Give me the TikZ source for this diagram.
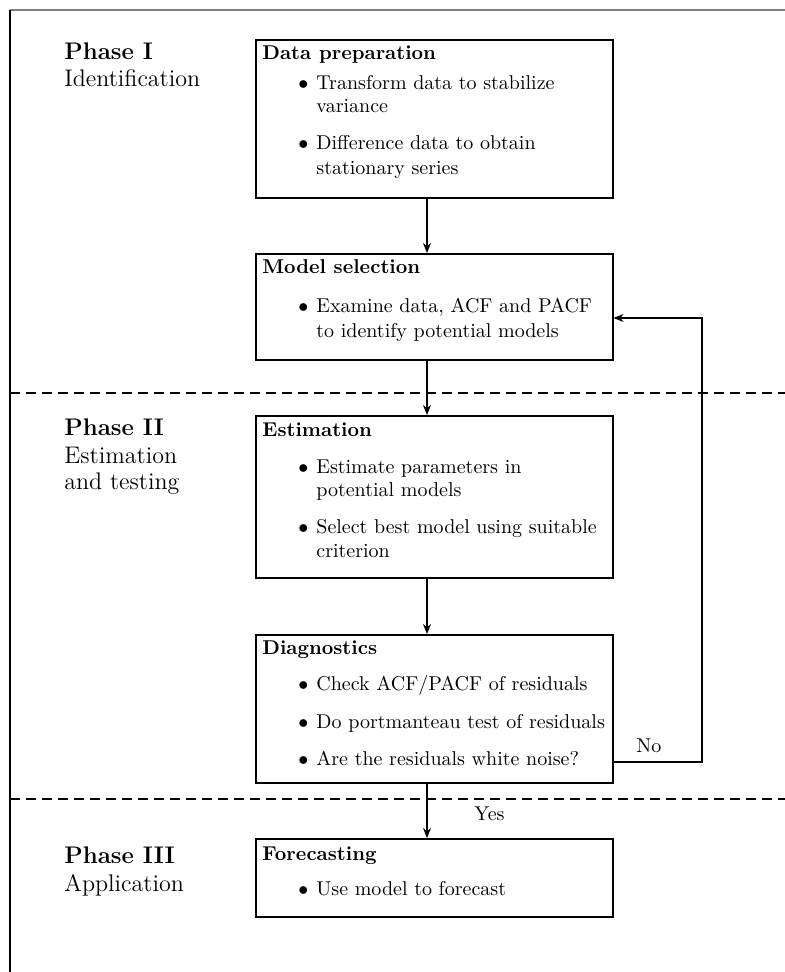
\documentclass[tikz,border=0pt]{standalone}
\usetikzlibrary{arrows.meta}
\begin{document}
\begin{tikzpicture}[x=0.5pt,y=-0.5pt,
  boxnode/.style={draw,line width=0.8pt,anchor=north west,minimum width=357*0.5pt,inner sep=0pt},
  txt/.style={anchor=base west,inner sep=0pt},
  ttl/.style={anchor=base west,inner sep=0pt,font=\bfseries},
  phase/.style={anchor=base west,inner sep=0pt,font=\large\bfseries},
  phasesub/.style={anchor=base west,inner sep=0pt,font=\large},
  conn/.style={line width=0.6pt,-{Stealth[length=5pt,width=4pt]}},
  sep/.style={line width=0.6pt,dash pattern=on 5pt off 3pt}]
\useasboundingbox (0,0) rectangle (785,972);
% frame
\draw[gray,line width=0.7pt] (10,10) -- (785,10);
\draw[line width=0.6pt] (10,10) -- (10,972);
% separators
\draw[sep] (10,393) -- (785,393);
\draw[sep] (10,799) -- (785,799);
% phase labels
\node[phase] (p1) at (64,60) {Phase I};
\node[phasesub] (p1s) at (64,87) {Identification};
\node[phase] (p2) at (64,435) {Phase II};
\node[phasesub] (p2s) at (64,463) {Estimation};
\node[phasesub] (p2t) at (64,489) {and testing};
\node[phase] (p3) at (64,863) {Phase III};
\node[phasesub] (p3s) at (64,891) {Application};
% boxes
\node[boxnode,minimum height=158*0.5pt] (b1) at (255,39) {};
\node[boxnode,minimum height=106*0.5pt] (b2) at (255,253) {};
\node[boxnode,minimum height=162*0.5pt] (b3) at (255,415) {};
\node[boxnode,minimum height=148*0.5pt] (b4) at (255,634) {};
\node[boxnode,minimum height=78*0.5pt] (b5) at (255,838) {};
% box 1
\node[ttl] (t1) at (262,60) {Data preparation};
\node[txt] (d11) at (298,90) {$\bullet$};
\node[txt] (l11) at (316,90) {Transform data to stabilize};
\node[txt] (l12) at (316,113) {variance};
\node[txt] (d12) at (298,150) {$\bullet$};
\node[txt] (l13) at (316,150) {Difference data to obtain};
\node[txt] (l14) at (316,175) {stationary series};
% box 2
\node[ttl] (t2) at (262,274) {Model selection};
\node[txt] (d21) at (298,313) {$\bullet$};
\node[txt] (l21) at (316,313) {Examine data, ACF and PACF};
\node[txt] (l22) at (316,337) {to identify potential models};
% box 3
\node[ttl] (t3) at (262,436) {Estimation};
\node[txt] (d31) at (298,473) {$\bullet$};
\node[txt] (l31) at (316,473) {Estimate parameters in};
\node[txt] (l32) at (316,496) {potential models};
\node[txt] (d32) at (298,533) {$\bullet$};
\node[txt] (l33) at (316,533) {Select best model using suitable};
\node[txt] (l34) at (316,557) {criterion};
% box 4
\node[ttl] (t4) at (262,654) {Diagnostics};
\node[txt] (d41) at (298,690) {$\bullet$};
\node[txt] (l41) at (316,690) {Check ACF/PACF of residuals};
\node[txt] (d42) at (298,728) {$\bullet$};
\node[txt] (l42) at (316,728) {Do portmanteau test of residuals};
\node[txt] (d43) at (298,765) {$\bullet$};
\node[txt] (l43) at (316,765) {Are the residuals white noise?};
% box 5
\node[ttl] (t5) at (262,860) {Forecasting};
\node[txt] (d51) at (298,895) {$\bullet$};
\node[txt] (l51) at (316,895) {Use model to forecast};
% connectors
\coordinate (ax) at (427,0);
\coordinate (fbx) at (702,0);
\coordinate (noy) at (0,762);
\coordinate (msy) at (0,318);
\draw[conn] (b1.south -| ax) -- (b2.north -| ax);
\draw[conn] (b2.south -| ax) -- (b3.north -| ax);
\draw[conn] (b3.south -| ax) -- (b4.north -| ax);
\draw[conn] (b4.south -| ax) -- (b5.north -| ax);
\draw[conn] (b4.east |- noy) -| (fbx |- msy) -- (b2.east |- msy);
\node[txt] (no) at (636,752) {No};
\node[txt] (yes) at (474,820) {Yes};
\end{tikzpicture}
\end{document}
